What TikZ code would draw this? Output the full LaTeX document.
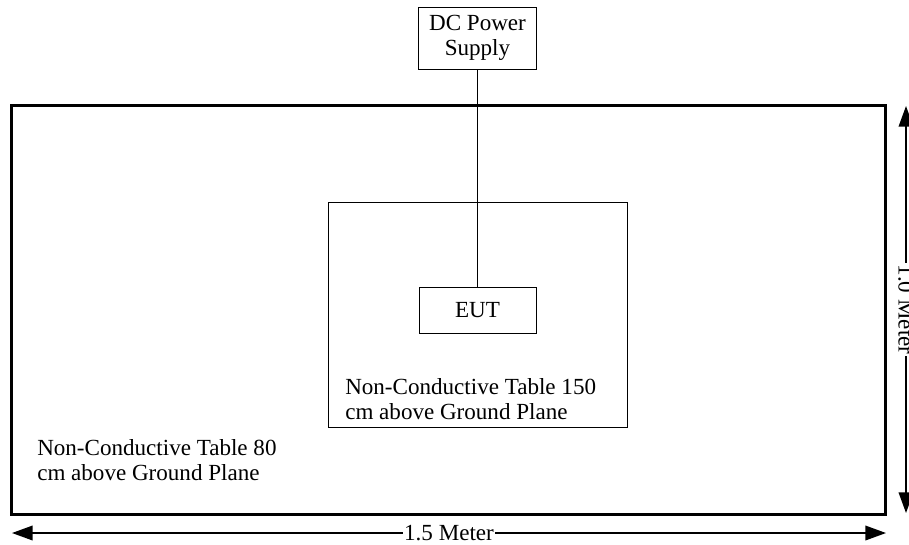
\documentclass[tikz,border=0pt]{standalone}
\usepackage{fontspec}
\setmainfont{Liberation Serif}
\usetikzlibrary{arrows.meta}

\begin{document}
\begin{tikzpicture}[x=0.75pt, y=-0.75pt, >={Triangle[length=15.5pt,width=11pt]},
  box/.style={draw, line width=0.75pt, inner sep=0pt, align=center},
  lbl/.style={fill=white, inner sep=1pt}]
\useasboundingbox (0,0) rectangle (909,544);
\fontsize{17.3}{19}\selectfont
\node[draw, line width=2.25pt, minimum width=655.5pt, minimum height=306.75pt] (ground) at (448,309.5) {};
\node[box, minimum width=224.25pt, minimum height=168.75pt] (table) at (477.5,314.5) {};
\node[box, minimum width=89pt, minimum height=46.5pt] (supply) at (477.5,38) {DC Power\\Supply};
\node[box, minimum width=87.75pt, minimum height=34.5pt] (eut) at (477.5,310) {EUT};
\draw[line width=0.75pt] (supply.south) -- (eut.north);
\node[align=left, anchor=west, inner sep=0pt] (tabletxt) at (345,399) {Non-Conductive Table 150\\cm above Ground Plane};
\node[align=left, anchor=west, inner sep=0pt] (groundtxt) at (37,460) {Non-Conductive Table 80\\cm above Ground Plane};
\coordinate (wl) at (12,533);\coordinate (wr) at (886,533);
\coordinate (ht) at (906,106);\coordinate (hb) at (906,513);
\draw[<->, line width=1.1pt] (wl) -- node[lbl] (wlabel) {1.5 Meter} (wr);
\draw[<->, line width=1.1pt] (ht) -- node[lbl, rotate=-90] (hlabel) {1.0 Meter} (hb);
\end{tikzpicture}
\end{document}
